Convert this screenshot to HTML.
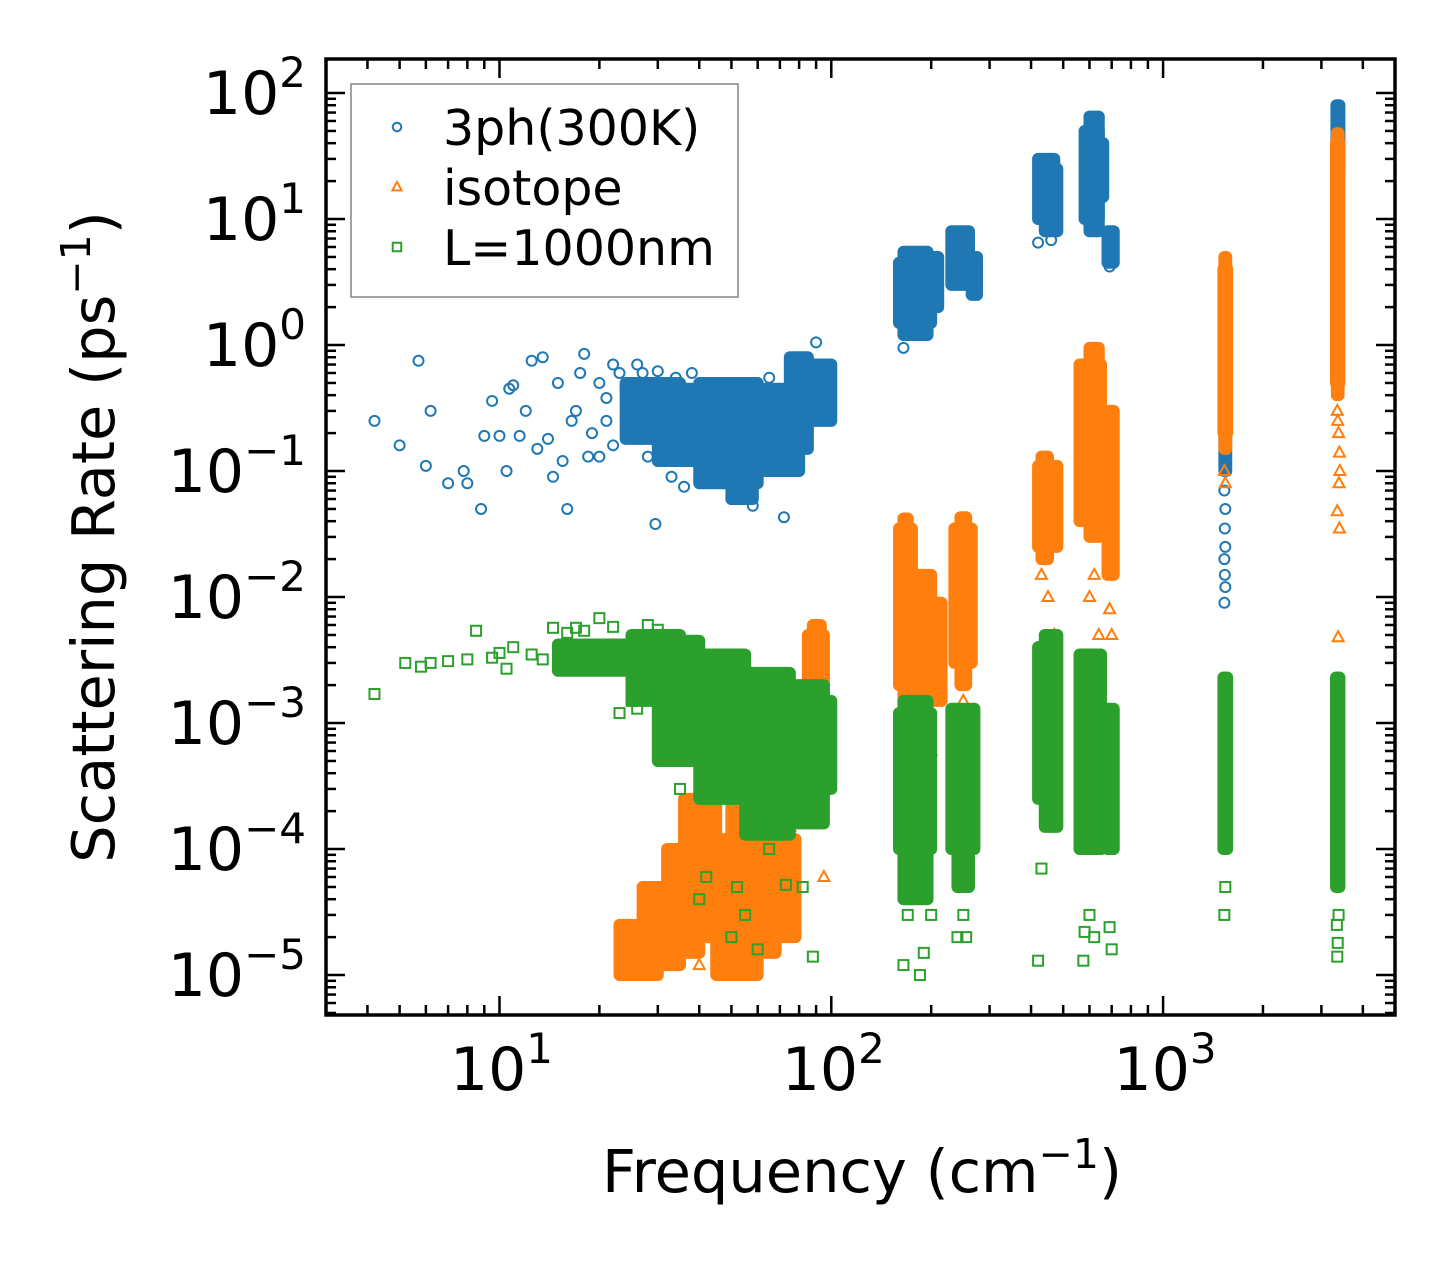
<!DOCTYPE html>
<html><head><meta charset="utf-8"><style>
html,body{margin:0;padding:0;background:#fff;}
svg{display:block;font-family:"DejaVu Sans","Liberation Sans",sans-serif;}
</style></head><body>
<svg id="chart" width="1455" height="1265" viewBox="0 0 1455 1265"></svg>
<script>
// ---- data ----
const xTickValues = [10, 100, 1000];
const xTickExps = ["1", "2", "3"];
const yTickValues = [1e2, 1e1, 1e0, 1e-1, 1e-2, 1e-3, 1e-4, 1e-5];
const yTickExps = ["2", "1", "0", "\u22121", "\u22122", "\u22123", "\u22124", "\u22125"];
const seriesNames = ["3ph(300K)", "isotope", "L=1000nm"];

// dense regions: [fmin, fmax, rateMin, rateMax]
const blueBands = [[24,35,0.18,0.5],[30,45,0.12,0.45],[40,60,0.08,0.5],[50,58,0.06,0.12],[55,80,0.1,0.45],[75,85,0.15,0.8],[85,100,0.25,0.7],
 [160,200,1.5,4.5],[165,195,1.2,5.5],[200,210,2,5],[230,260,3,8],[265,275,2.5,5],
 [420,470,10,30],[440,480,8,25],[580,640,10,50],[600,640,8,65],[650,660,15,40],[680,710,4.5,8],
 [1530,1550,0.1,1.2],[3330,3400,25,80]];
const bluePoints = [[4.2,0.25],[5,0.16],[5.7,0.75],[6,0.11],[6.2,0.3],[7,0.08],[7.8,0.1],[8,0.08],[8.8,0.05],[9,0.19],
 [9.5,0.36],[10,0.19],[10.5,0.1],[10.7,0.45],[11,0.48],[11.5,0.19],[12,0.3],[12.5,0.75],[13,0.15],[13.5,0.8],
 [14,0.18],[14.5,0.09],[15,0.5],[15.5,0.12],[16,0.05],[16.5,0.25],[17,0.3],[17.5,0.6],[18,0.85],[18.5,0.13],[19,0.2],
 [20,0.5],[21,0.38],[22,0.7],[20,0.13],[21,0.25],[23,0.6],[22,0.16],[25,0.2],[26,0.7],[24,0.45],[28,0.13],[29.5,0.038],
 [27,0.6],[30,0.62],[33,0.09],[36,0.075],[34,0.55],[38,0.6],[72,0.043],[90,1.05],[85,0.75],[65,0.55],
 [58,0.053],[50,0.06],[165,0.95],[420,6.5],[460,6.8],[690,4.2],[705,5],
 [1530,0.07],[1540,0.05],[1535,0.035],[1540,0.025],[1530,0.02],[1535,0.015],[1540,0.012],[1530,0.009]];

const orangeBands = [[23,30,1e-5,2.5e-5],[27,35,1.2e-5,5e-5],[32,40,1.5e-5,1e-4],[36,45,2e-5,2.5e-4],[45,55,1e-5,1.2e-4],[50,60,1e-5,2.5e-4],
 [58,68,1.5e-5,1.5e-4],[65,78,2e-5,1.2e-4],[85,95,1e-3,5e-3],[88,93,6e-4,6e-3],
 [160,175,2e-3,3.5e-2],[165,170,1.5e-3,4.2e-2],[175,200,1.5e-3,1.5e-2],[200,215,1.5e-3,9e-3],[235,265,3e-3,3.5e-2],[245,255,2e-3,4.3e-2],
 [420,480,2.5e-2,1.1e-1],[430,450,2e-2,1.3e-1],[560,650,4e-2,7e-1],[600,640,3e-2,9.5e-1],[680,710,1.5e-2,3e-1],
 [1520,1560,0.2,4],[1530,1550,0.15,5],[3320,3400,0.5,40],[3340,3380,0.4,48]];
const orangePoints = [[1530,0.1],[1540,0.08],[3350,0.3],[3360,0.25],[3380,0.2],[3400,0.14],[3410,0.1],[3390,0.08],
 [3350,0.048],[3400,0.035],[3370,0.0048],[430,0.015],[450,0.01],[470,0.005],[440,0.02],[600,0.01],[640,0.005],
 [620,0.015],[690,0.008],[700,0.005],[170,0.0008],[200,0.0006],[240,0.0009],[250,0.0015],[90,0.0002],[95,6e-5],
 [85,0.00035],[40,1.2e-5],[55,1.1e-5],[70,2.5e-4],[75,1.5e-4]];

const greenBands = [[15,30,2.6e-3,4.2e-3],[25,35,1.5e-3,5e-3],[30,40,5e-4,4.5e-3],[40,55,2.5e-4,3.5e-3],[55,75,1.3e-4,2.5e-3],[75,95,1.6e-4,2e-3],
 [90,100,3e-4,1.5e-3],[160,200,1e-4,1.2e-3],[165,195,4e-5,1.5e-3],[230,270,1e-4,1.3e-3],[240,260,5e-5,8e-4],
 [420,470,2.5e-4,4e-3],[440,480,1.5e-4,5e-3],[560,650,1e-4,3.5e-3],[680,710,1e-4,1.3e-3],
 [1520,1560,1e-4,2.3e-3],[3320,3400,5e-5,2.3e-3]];
const greenPoints = [[4.2,1.7e-3],[5.2,3e-3],[5.8,2.8e-3],[6.2,3e-3],[7,3.1e-3],[8,3.2e-3],[8.5,5.4e-3],[9.5,3.3e-3],
 [10,3.6e-3],[10.5,2.7e-3],[11,4e-3],[12.5,3.5e-3],[13.5,3.2e-3],[14.5,5.7e-3],[16,5.2e-3],[17,5.7e-3],[18,5.4e-3],
 [20,6.8e-3],[22,5.8e-3],[28,6e-3],[30,5.5e-3],[33,5e-3],[25,1.5e-3],[23,1.2e-3],[26,1.3e-3],[35,3e-4],[40,4e-5],[42,6e-5],[50,2e-5],
 [55,3e-5],[60,1.6e-5],[52,5e-5],[65,1e-4],[73,5.2e-5],[88,1.4e-5],[82,5e-5],[165,1.2e-5],[185,1e-5],[190,1.5e-5],
 [170,3e-5],[200,3e-5],[240,2e-5],[255,2e-5],[250,3e-5],[420,1.3e-5],[430,7e-5],[575,1.3e-5],[580,2.2e-5],
 [620,2e-5],[600,3e-5],[700,1.6e-5],[690,2.4e-5],[1530,3e-5],[1540,5e-5],[3350,1.4e-5],[3360,1.8e-5],[3340,2.5e-5],[3380,3e-5]];

// ---- layout ----
const L = 326, R = 1395, T = 59, B = 1015;
const xMinLog = Math.log10(3), xMaxLog = Math.log10(5000);
const yMinLog = -5.317, yMaxLog = 2.27;
function sx(v){ return L + (Math.log10(v) - xMinLog) / (xMaxLog - xMinLog) * (R - L); }
function sy(v){ return B - (Math.log10(v) - yMinLog) / (yMaxLog - yMinLog) * (B - T); }

const NS = "http://www.w3.org/2000/svg";
const svg = document.getElementById("chart");
function mk(tag, attrs, parent){
  const e = document.createElementNS(NS, tag);
  for (const k in attrs) e.setAttribute(k, attrs[k]);
  (parent || svg).appendChild(e);
  return e;
}
const colors = ["#1f77b4", "#ff7f0e", "#2ca02c"];

const clip = mk("clipPath", {id: "plotclip"});
mk("rect", {x: L, y: T, width: R - L, height: B - T}, clip);

function marker(kind, cx, cy, color, parent, s){
  let e;
  if (kind === 0) {
    e = mk("circle", {cx: cx, cy: cy, r: 5*s, fill: "none", stroke: color, "stroke-width": 2}, parent);
  } else if (kind === 1) {
    e = mk("polygon", {points: (cx)+","+(cy-6*s)+" "+(cx+5.5*s)+","+(cy+4*s)+" "+(cx-5.5*s)+","+(cy+4*s), fill: "none", stroke: color, "stroke-width": 2}, parent);
  } else {
    e = mk("rect", {x: cx - 5*s, y: cy - 5*s, width: 10*s, height: 10*s, fill: "none", stroke: color, "stroke-width": 2}, parent);
  }
  return e;
}

function drawSeries(idx, bands, points, name){
  const g = mk("g", {"clip-path": "url(#plotclip)"});
  
  
  const pad = 6;
  bands.forEach(b => {
    const r = mk("rect", {x: sx(b[0]) - pad, y: sy(b[3]) - pad, width: sx(b[1]) - sx(b[0]) + 2*pad,
      height: sy(b[2]) - sy(b[3]) + 2*pad, rx: 6, fill: colors[idx]}, g);
    
    
  });
  points.forEach(p => {
    const m = marker(idx, sx(p[0]), sy(p[1]), colors[idx], g, 1);
    
    
  });
}
drawSeries(0, blueBands, bluePoints, "3ph");
drawSeries(1, orangeBands, orangePoints, "isotope");
drawSeries(2, greenBands, greenPoints, "boundary");

// ---- ticks ----
const tickG = mk("g", {stroke: "#000", "stroke-width": 2.5});


for (let d = 0; d <= 3; d++) {
  for (let m = 1; m <= 9; m++) {
    const v = m * Math.pow(10, d);
    if (v < 3 || v > 5000) continue;
    const x = sx(v), len = m === 1 ? 19 : 10;
    mk("line", {x1: x, y1: B, x2: x, y2: B - len}, tickG);
    mk("line", {x1: x, y1: T, x2: x, y2: T + len}, tickG);
  }
}
for (let d = -6; d <= 2; d++) {
  for (let m = 1; m <= 9; m++) {
    const v = m * Math.pow(10, d);
    const lv = Math.log10(v);
    if (lv < yMinLog || lv > yMaxLog) continue;
    const y = sy(v), len = m === 1 ? 19 : 10;
    mk("line", {x1: L, y1: y, x2: L + len, y2: y}, tickG);
    mk("line", {x1: R, y1: y, x2: R - len, y2: y}, tickG);
  }
}
const frame = mk("rect", {x: L, y: T, width: R - L, height: B - T, fill: "none", stroke: "#000", "stroke-width": 3.5});



// ---- tick labels ----
function powLabel(x, y, exp, anchor, name){
  const t = mk("text", {x: x, y: y, "text-anchor": anchor, "font-size": 60, fill: "#000"});
  
  
  const a = mk("tspan", {}, t); a.textContent = "10";
  const b = mk("tspan", {dy: -27, "font-size": 42}, t); b.textContent = exp;
  return t;
}
xTickValues.forEach((v, i) => { powLabel(sx(v) + 2, 1090, xTickExps[i], "middle", "x-tick-label"); });
yTickValues.forEach((v, i) => { powLabel(306, sy(v) + 21, yTickExps[i], "end", "y-tick-label"); });

// ---- axis titles ----
const xt = mk("text", {x: 862, y: 1192, "text-anchor": "middle", "font-size": 59});


mk("tspan", {}, xt).textContent = "Frequency (cm";
mk("tspan", {dy: -24, "font-size": 41}, xt).textContent = "\u22121";
mk("tspan", {dy: 24}, xt).textContent = ")";

const yt = mk("text", {x: 0, y: 0, "text-anchor": "middle", "font-size": 59, transform: "translate(114,537) rotate(-90)"});


mk("tspan", {}, yt).textContent = "Scattering Rate (ps";
mk("tspan", {dy: -24, "font-size": 41}, yt).textContent = "\u22121";
mk("tspan", {dy: 24}, yt).textContent = ")";

// ---- legend ----
const lg = mk("g", {});


mk("rect", {x: 351, y: 84, width: 387, height: 213, fill: "#fff", "fill-opacity": 0.8, stroke: "#999", "stroke-width": 1.8}, lg);
seriesNames.forEach((n, i) => {
  const y = 127 + i * 60;
  const m = marker(i, 397, y, colors[i], lg, 0.85);
  
  
  const t = mk("text", {x: 443, y: y + 18, "font-size": 49}, lg);
  
  
  t.textContent = n;
});
</script>
</body></html>
